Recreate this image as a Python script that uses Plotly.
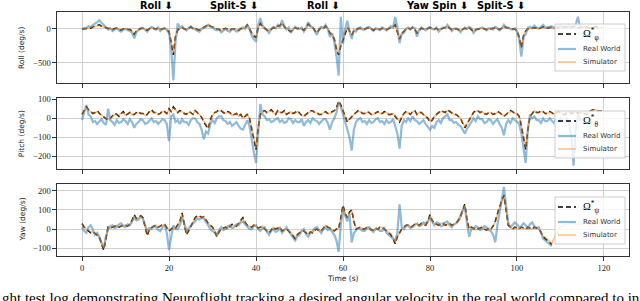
import plotly.graph_objects as go

TIME = [k / 2 for k in range(240)]
X_TICKS = [0, 20, 40, 60, 80, 100, 120]

ROLL_REAL = [
    -10, 15, 10, 40, 30, 60, 80, 100, 130, 90,
    60, 20, -10, 10, -30, -10, 10, -20, -40, -10,
    0, -20, -30, -60, -140, -50, -20, 10, 10, -10,
    -40, 0, 30, 10, -10, 20, -30, 0, 10, -20,
    -60, -300, -760, -200, 80, 20, 40, 0, -20, 10,
    40, 10, 0, -30, -40, 0, 10, 30, 60, 30,
    20, -10, -20, 0, -50, -20, 0, -30, -40, 0,
    -10, -40, -30, 10, 20, 0, 50, 10, -100, -150,
    -190, 60, 160, 50, 20, -20, -60, 0, 30, 10,
    60, 20, 130, 40, -10, 20, -60, -20, 30, 0,
    0, 20, -40, 10, 100, 40, 20, -30, -90, 0,
    30, 10, 60, 0, -120, -60, -200, -400, -690, 180,
    -220, 0, 120, -40, -150, -20, -40, 10, 20, -10,
    -10, 20, 30, 0, -30, 10, 0, -20, 20, 0,
    -20, 10, 40, 20, 175, 30, -210, -80, -60, 0,
    20, -10, 30, 10, -115, -20, 20, 0, -20, 10,
    30, 0, -10, 20, -40, 0, 20, 10, 60, 20,
    -30, 0, 10, -10, -50, -10, 20, 0, 30, 10,
    -60, -20, -10, 10, 20, 0, -20, 10, 10, -10,
    30, 10, -20, 10, 60, 20, 20, 0, -10, 10,
    -40, -150, -410, -120, -80, 20, 30, 10, 50, 20,
    10, 30, 60, 20, 20, 30, 40, 10, 20, 40,
    50, 20, 20, 30, 40, 10, 30, 60, 180, 20,
    20, 30]
ROLL_DESIRED = [
    0, 5, 5, 15, 10, 30, 40, 50, 60, 40,
    30, 10, 0, -5, -10, 5, 10, -10, -20, 0,
    5, -5, -10, -30, -80, -30, -10, 5, 10, -5,
    -20, 5, 20, 5, 0, 10, -10, 0, 10, -10,
    -40, -200, -385, -100, -20, 10, 20, 0, -10, 10,
    30, 5, 10, -10, -20, 5, 20, 40, 70, 40,
    30, 10, 0, -10, -30, -5, 10, -10, -20, 0,
    0, -15, -20, 0, 10, 20, 60, -10, -60, -100,
    -130, 20, 80, 30, 0, -15, -30, 0, 20, 10,
    40, 50, 90, 30, 0, -20, -40, -10, 20, 5,
    10, 0, -20, 20, 70, 40, 30, -20, -60, -10,
    20, 10, 40, 0, -60, -90, -150, -300, -385, -250,
    -160, -40, 20, -30, -90, -30, -10, 5, 10, -5,
    0, 10, 20, 0, -20, 0, 0, -10, 10, 0,
    -10, 5, 20, 30, 60, -40, -150, -70, -30, 0,
    10, 0, 20, -10, -60, -20, 10, 0, -10, 5,
    20, 5, 0, 10, -20, -5, 10, 20, 40, 10,
    -10, 5, 0, -10, -30, -5, 10, 0, 20, -10,
    -40, -10, 0, 5, 10, 0, -10, 5, 0, 10,
    20, 0, -10, 10, 40, 20, 10, 5, 0, -5,
    -20, -120, -280, -100, -30, 0, 10, 15, 20, 10,
    0, 15, 30, 15, 10, 20, 20, 15, 20, 15,
    10, 20, 30, 25, 20, 30, 40, 20, 10, 25,
    30, 25, 20, 15, 10, 20, 30, 25, 20, 20]
ROLL_SIM = [
    0, 5, 5, 15, 15, 25, 35, 45, 55, 40,
    30, 15, 5, 0, -10, 0, 5, -5, -15, 0,
    5, -5, -10, -25, -70, -30, -15, 0, 10, -5,
    -15, 5, 15, 5, 0, 10, -10, 0, 10, -5,
    -30, -180, -360, -110, -30, 5, 15, 0, -10, 10,
    25, 10, 10, -10, -15, 5, 20, 35, 60, 40,
    30, 10, 0, -10, -25, -5, 10, -10, -20, 0,
    0, -10, -15, 0, 10, 20, 55, -5, -55, -95,
    -120, 10, 70, 30, 0, -10, -25, 0, 20, 10,
    40, 45, 80, 30, 5, -15, -35, -10, 20, 5,
    10, 0, -20, 15, 60, 40, 30, -15, -55, -10,
    20, 10, 35, 0, -55, -85, -140, -280, -370, -240,
    -150, -40, 15, -30, -80, -30, -10, 5, 10, -5,
    0, 10, 20, 0, -15, 0, 0, -10, 10, 0,
    -10, 5, 20, 25, 55, -35, -140, -65, -30, 0,
    10, 0, 20, -10, -55, -20, 10, 0, -10, 5,
    20, 5, 0, 10, -20, -5, 10, 20, 35, 10,
    -10, 5, 0, -10, -25, -5, 10, 0, 20, -10,
    -35, -10, 0, 5, 10, 0, -10, 5, 0, 10,
    20, 0, -10, 10, 35, 20, 10, 5, 0, -5,
    -20, -110, -260, -100, -35, 0, 10, 15, 20, 10,
    0, 15, 25, 15, 10, 20, 20, 15, 20, 20,
    15, 20, 25, 25, 20, 30, 35, 25, 15, 25,
    25, 25, 20, 15, 15, 20, 25, 25, 20, 20]

PITCH_REAL = [
    -10, 30, 70, 20, 10, -20, -15, -30, -20, -5,
    -25, -35, 50, -10, -20, -35, -10, -25, -20, -5,
    -15, -30, -5, -20, -50, -30, -20, -5, -10, -30,
    -25, -10, 0, -20, -15, -30, -20, -5, -10, -30,
    -120, 10, 20, -20, -10, -30, -5, -20, -20, -35,
    -10, 0, 0, -20, -30, -60, -110, -70, -80, -30,
    -10, -25, 0, 10, 10, -10, -15, -30, -20, -40,
    -30, -20, -40, -55, -60, -30, -10, -40, -120, -180,
    -235, -60, 75, 20, 10, -10, -5, -20, -15, -5,
    0, -20, -10, -25, -20, 0, -5, -25, -10, -20,
    -20, -5, -40, -20, -10, -25, 0, -10, -15, -30,
    -20, -5, -5, -25, -60, -20, 0, 30, 85, 60,
    20, -20, -50, -100, -170, -60, -20, -5, 0, -20,
    -15, -30, -10, -25, -20, -5, 0, -20, -15, -30,
    -10, -25, -20, -5, -40, -80, -160, -40, -10, -20,
    0, -15, 10, -10, -15, -30, -20, -10, -30, -45,
    -60, -40, -50, -20, -10, -25, 0, 10, 20, -10,
    -10, -25, -20, -35, -40, -60, -80, -55, -40, -20,
    0, -15, 10, -5, -5, -25, -20, -5, -10, -30,
    -15, -5, -30, -50, -90, -30, -10, -25, 0, -10,
    -15, -30, -80, -150, -235, -60, 20, 0, 10, -10,
    -10, -25, 0, -15, -15, 0, -10, -25, -5, -20,
    0, -15, -20, -5, -30, -100, -250, -60, 20, -10,
    0, -10]
PITCH_DESIRED = [
    20, 40, 60, 45, 35, 25, 30, 40, 25, 15,
    5, -5, -10, 0, 10, 25, 20, 10, 25, 35,
    15, 25, 30, 20, 20, 30, 35, 25, 25, 15,
    20, 35, 45, 30, 30, 20, 25, 40, 35, 25,
    50, 35, 60, 45, 30, 40, 35, 25, 20, 35,
    30, 20, 40, 30, 20, 5, -20, -40, -55, -10,
    20, 30, 35, 45, 40, 30, 25, 35, 30, 15,
    20, 25, 10, 20, 0, 10, 20, 0, -60, -120,
    -165, -50, 20, 35, 40, 30, 35, 45, 30, 20,
    40, 30, 30, 40, 20, 30, 35, 25, 30, 40,
    25, 15, 10, 20, 30, 40, 40, 30, 30, 20,
    20, 30, 35, 25, 25, 35, 40, 55, 90, 70,
    40, 10, -20, -5, 10, 20, 30, 40, 35, 25,
    25, 35, 30, 20, 20, 30, 35, 25, 25, 35,
    30, 20, 20, 25, 10, -5, -20, 5, 25, 35,
    30, 20, 35, 40, 20, 30, 30, 20, 10, 0,
    -20, -10, 10, 20, 30, 40, 35, 30, 45, 35,
    30, 20, 20, 10, 0, -25, -50, -30, -10, 10,
    30, 40, 40, 30, 35, 25, 20, 30, 30, 20,
    25, 35, 30, 20, 10, 20, 30, 40, 35, 25,
    25, 10, -40, -100, -165, -60, 10, 25, 40, 30,
    30, 40, 35, 25, 25, 35, 30, 20, 25, 35,
    30, 20, 20, 30, 35, 25, 30, 35, 25, 30,
    30, 25, 20, 35, 40, 45, 45, 40, 40, 40]
PITCH_SIM = [
    20, 35, 55, 45, 35, 25, 30, 35, 25, 15,
    10, 0, -5, 0, 10, 20, 20, 15, 25, 30,
    15, 25, 30, 20, 20, 25, 30, 25, 25, 15,
    20, 30, 40, 30, 30, 20, 25, 35, 35, 25,
    45, 35, 55, 45, 30, 35, 35, 25, 20, 30,
    30, 20, 40, 30, 20, 5, -15, -35, -50, -10,
    15, 30, 35, 40, 40, 30, 25, 30, 30, 15,
    20, 25, 10, 20, 0, 10, 20, 0, -55, -110,
    -155, -45, 15, 30, 40, 30, 35, 40, 30, 20,
    40, 30, 30, 35, 20, 30, 35, 25, 30, 35,
    25, 15, 10, 20, 30, 35, 40, 30, 30, 20,
    20, 30, 35, 25, 25, 30, 40, 50, 85, 65,
    40, 10, -15, -5, 10, 20, 30, 35, 35, 25,
    25, 30, 30, 20, 20, 30, 35, 25, 25, 30,
    30, 20, 20, 25, 10, -5, -15, 5, 25, 30,
    30, 20, 35, 35, 20, 30, 30, 20, 10, 0,
    -15, -10, 10, 20, 30, 35, 35, 30, 40, 35,
    30, 20, 20, 10, 0, -20, -45, -30, -10, 10,
    30, 35, 40, 30, 35, 25, 20, 30, 30, 20,
    25, 30, 30, 20, 10, 20, 30, 35, 35, 25,
    25, 10, -35, -95, -155, -55, 10, 25, 40, 30,
    30, 35, 35, 25, 25, 30, 30, 20, 25, 30,
    30, 25, 25, 30, 35, 25, 30, 35, 25, 30,
    30, 25, 25, 35, 40, 45, 45, 40, 40, 40]

YAW_REAL = [
    10, -10, -20, 10, 20, -10, -30, -20, -50, -80,
    -100, -40, 0, 15, 20, 5, 10, 25, 30, 15,
    10, 25, 20, 40, 60, 45, 50, 65, 55, 20,
    -10, 5, 0, 15, 10, -5, -10, 10, 20, -20,
    -110, -40, 20, 0, 0, 20, 60, 30, -10, 5,
    20, 30, 40, 55, 50, 60, 55, 40, 20, 0,
    -10, -20, -30, -5, 10, -5, 0, 15, 20, 5,
    10, 25, 20, 35, 40, 25, 10, 0, 0, 15,
    20, 0, -10, 5, 10, -15, -30, -10, 0, -15,
    -10, 5, -20, -5, 10, -10, -30, -45, -60, -40,
    -30, -10, 0, -25, -40, -20, -10, 5, 10, -5,
    -20, 0, 10, -5, 0, -15, -30, -60, -120, 20,
    110, 70, 40, 80, -70, -20, -10, 5, 0, -10,
    -10, 5, 10, -5, -15, 0, 0, -10, -10, 5,
    -20, -30, -40, -50, -60, -20, 130, 10, 0, 15,
    20, 5, 10, 25, 30, 15, 20, 35, 30, 40,
    60, 40, 20, 35, 30, 15, 20, 35, 40, 20,
    10, 25, 30, 45, 70, 100, 120, 30, -40, 0,
    0, 15, 10, -5, 0, 15, 10, -5, -10, -30,
    -68, 20, 80, 150, 220, 120, 30, 10, 20, 35,
    25, 10, 15, 30, 20, 5, 25, 35, 15, 5,
    10, -20, -50, -60, -70, -85,
    -90]
YAW_DESIRED = [
    28, 10, 0, -10, -20, -15, -25, -30, -40, -80,
    -110, -50, 10, 5, 10, 15, 20, 10, 15, 20,
    20, 15, 25, 45, 75, 55, 60, 70, 60, 10,
    -35, 0, 10, 15, 20, 10, 15, 25, 25, 10,
    -10, 0, 10, 5, 20, 40, 85, 20, -30, -10,
    10, 35, 60, 70, 70, 60, 65, 45, 30, 20,
    10, -10, -40, -15, 0, 5, 10, 0, 15, 25,
    20, 15, 30, 45, 60, 35, 20, 15, 10, 20,
    15, 5, 10, 15, 0, -10, -20, -5, 10, 0,
    5, 10, -10, -5, 0, -10, -20, -35, -50, -30,
    -20, -10, -10, -20, -30, -15, -20, -5, 0, -10,
    -10, 5, 20, 10, 5, -5, -10, 0, 0, 60,
    125, 80, 60, 90, 100, 40, 0, 5, 10, 0,
    0, 10, 5, -5, -5, 5, 0, 10, 10, 0,
    -10, -20, -30, -50, -77, -40, -20, 0, 10, 20,
    20, 10, 15, 25, 25, 20, 30, 25, 20, 40,
    75, 45, 30, 25, 20, 30, 30, 20, 25, 30,
    20, 25, 30, 45, 60, 100, 130, 50, 0, 10,
    5, -5, 0, 5, 10, 0, -5, 5, 0, 15,
    40, 80, 120, 150, 176, 90, 20, 10, 0, 10,
    5, 0, 10, 5, 0, 10, 5, 0, 10, 5,
    0, -15, -40, -50, -60, -70,
    -80]
YAW_SIM = [
    25, 10, 0, -5, -15, -15, -25, -25, -35, -70,
    -100, -45, 5, 5, 10, 15, 20, 10, 15, 20,
    20, 15, 25, 40, 70, 55, 60, 65, 55, 10,
    -30, 0, 10, 15, 20, 10, 15, 20, 25, 10,
    -5, 0, 10, 5, 20, 40, 80, 20, -25, -5,
    10, 30, 55, 65, 65, 60, 65, 45, 30, 20,
    10, -10, -35, -15, 0, 5, 10, 0, 15, 20,
    20, 15, 30, 40, 55, 35, 20, 15, 10, 20,
    15, 5, 10, 15, 0, -10, -15, -5, 10, 0,
    5, 10, -10, -5, 0, -10, -15, -30, -45, -30,
    -20, -10, -10, -15, -25, -15, -20, -5, 0, -10,
    -10, 5, 20, 10, 5, -5, -10, 0, 0, 55,
    115, 80, 60, 85, 95, 40, 5, 5, 10, 0,
    0, 10, 5, -5, -5, 5, 0, 10, 10, 0,
    -10, -15, -25, -45, -70, -40, -20, 0, 10, 20,
    20, 10, 15, 20, 25, 20, 30, 25, 20, 35,
    70, 45, 30, 25, 20, 30, 30, 20, 25, 30,
    20, 25, 30, 40, 55, 95, 125, 50, 5, 10,
    5, -5, 0, 5, 10, 0, -5, 5, 0, 15,
    35, 75, 115, 145, 170, 90, 25, 10, 0, 10,
    5, 0, 10, 5, 0, 10, 5, 0, 10, 5,
    0, -15, -35, -45, -55, -65, -75, -50, -20, 0,
    10, 15, 20, 25, 25, 30, 30, 25, 20, 25,
    25, 30, 30, 25, 20, 25, 25, 30, 30, 25]

PANEL_LABELS = ["Roll (deg/s)", "Pitch (deg/s)", "Yaw (deg/s)"]
PANEL_SYMBOLS = ["φ", "θ", "ψ"]
PANEL_YTICKS = [[-500, 0], [-200, -100, 0, 100], [-100, 0, 100, 200]]
PANEL_RANGES = [[-800, 250], [-267, 105], [-141, 236]]
LEGEND_NAMES = ["Real World", "Simulator"]
EVENT_LABELS = ["Roll ⬇", "Split-S ⬇", "Roll ⬇", "Yaw Spin ⬇", "Split-S ⬇"]
EVENT_TIMES = [21.4, 40.9, 59.8, 89.2, 102.3]
CAPTION = ("ght test log demonstrating Neuroflight tracking a desired angular "
           "velocity in the real world compared to in")

series = [(ROLL_DESIRED, ROLL_REAL, ROLL_SIM),
          (PITCH_DESIRED, PITCH_REAL, PITCH_SIM),
          (YAW_DESIRED, YAW_REAL, YAW_SIM)]

W, H = 640, 301
def py(p):
    return 1 - p / H
def px(p):
    return p / W

boxes = [(12, 83), (98.3, 169), (184, 256)]
legend_tops = [24, 111, 197]
x_dom = [57 / W, 629 / W]

DES_STYLE = dict(color="black", width=1.5, dash="5px,3px")
REAL_STYLE = dict(color="rgba(31,119,180,0.5)", width=2.2)
SIM_STYLE = dict(color="rgba(255,127,14,0.5)", width=1.5)

fig = go.Figure()
for i, (des, real, sim) in enumerate(series):
    sfx = "" if i == 0 else str(i + 1)
    sym = PANEL_SYMBOLS[i]
    fig.add_trace(go.Scatter(
        x=TIME[:len(des)], y=des, mode="lines", line=DES_STYLE,
        name="Ω*" + sym, xaxis="x" + sfx, yaxis="y" + sfx, showlegend=False))
    fig.add_trace(go.Scatter(
        x=TIME[:len(real)], y=real, mode="lines", line=REAL_STYLE,
        name=LEGEND_NAMES[0], xaxis="x" + sfx, yaxis="y" + sfx, showlegend=False))
    fig.add_trace(go.Scatter(
        x=TIME[:len(sim)], y=sim, mode="lines", line=SIM_STYLE,
        name=LEGEND_NAMES[1], xaxis="x" + sfx, yaxis="y" + sfx, showlegend=False))

layout = dict(width=W, height=H, margin=dict(l=0, r=0, t=0, b=0, autoexpand=False),
              paper_bgcolor="white", plot_bgcolor="white", showlegend=False)
tickfont = dict(family="Liberation Serif", size=8.5, color="#222")
for i in range(3):
    sfx = "" if i == 0 else str(i + 1)
    top, bot = boxes[i]
    layout["xaxis" + sfx] = dict(
        domain=x_dom, anchor="y" + sfx, range=[-5.75, 125.75],
        tickvals=X_TICKS, showticklabels=(i == 2), ticks="outside", ticklen=3.5,
        tickcolor="#333", showline=True, mirror=True, linecolor="#333", linewidth=1.2,
        showgrid=True, gridcolor="#cfcfcf", gridwidth=1, zeroline=False,
        tickfont=tickfont, automargin=False)
    layout["yaxis" + sfx] = dict(
        domain=[py(bot), py(top)], anchor="x" + sfx, range=PANEL_RANGES[i],
        tickvals=PANEL_YTICKS[i], ticks="outside", ticklen=3.5,
        tickcolor="#333", showline=True, mirror=True, linecolor="#333", linewidth=1.2,
        showgrid=True, gridcolor="#cfcfcf", gridwidth=1, zeroline=False,
        tickfont=tickfont, automargin=False)

shapes = []
annotations = []
for i in range(3):
    top = legend_tops[i]
    shapes.append(dict(type="rect", xref="paper", yref="paper",
                       x0=px(555), x1=px(625), y0=py(top + 47), y1=py(top),
                       fillcolor="rgba(255,255,255,0.8)",
                       line=dict(color="#cccccc", width=1), layer="above"))
    entries = [(10, DES_STYLE, "Ω<sup>*</sup><sub>" + PANEL_SYMBOLS[i] + "</sub>",
                dict(family="Liberation Serif", size=10.5, color="black")),
               (25, REAL_STYLE, LEGEND_NAMES[0],
                dict(family="DejaVu Sans", size=7, color="#333")),
               (38, SIM_STYLE, LEGEND_NAMES[1],
                dict(family="DejaVu Sans", size=7, color="#333"))]
    for off, style, txt, fnt in entries:
        shapes.append(dict(type="line", xref="paper", yref="paper",
                           x0=px(558), x1=px(576), y0=py(top + off), y1=py(top + off),
                           line=style, layer="above"))
        annotations.append(dict(text=txt, xref="paper", yref="paper",
                                x=px(581), y=py(top + off), showarrow=False,
                                xanchor="left", yanchor="middle", font=fnt))

for i, lab in enumerate(PANEL_LABELS):
    top, bot = boxes[i]
    annotations.append(dict(
        text=lab, xref="paper", yref="paper", x=px(21.5), y=py((top + bot) / 2),
        showarrow=False, textangle=-90, xanchor="center", yanchor="middle",
        font=dict(family="DejaVu Sans", size=7.5, color="#222")))
annotations.append(dict(
    text="Time (s)", xref="paper", yref="paper", x=px(343), y=py(278),
    showarrow=False, xanchor="center", yanchor="middle",
    font=dict(family="DejaVu Sans", size=7.5, color="#222")))
for lab, t in zip(EVENT_LABELS, EVENT_TIMES):
    annotations.append(dict(
        text="<b>" + lab + "</b>", xref="x", yref="paper", x=t, y=py(5.5),
        showarrow=False, xanchor="right", yanchor="middle",
        font=dict(family="DejaVu Sans", size=9.8, color="black")))
annotations.append(dict(
    text=CAPTION, xref="paper", yref="paper", x=0, y=py(298),
    showarrow=False, xanchor="left", yanchor="middle",
    font=dict(family="Liberation Serif", size=15, color="black")))
layout["annotations"] = annotations
layout["shapes"] = shapes

fig.update_layout(**layout)
fig.write_html("out.html", config={"displayModeBar": False},
               post_script="document.body.style.margin='0';")
